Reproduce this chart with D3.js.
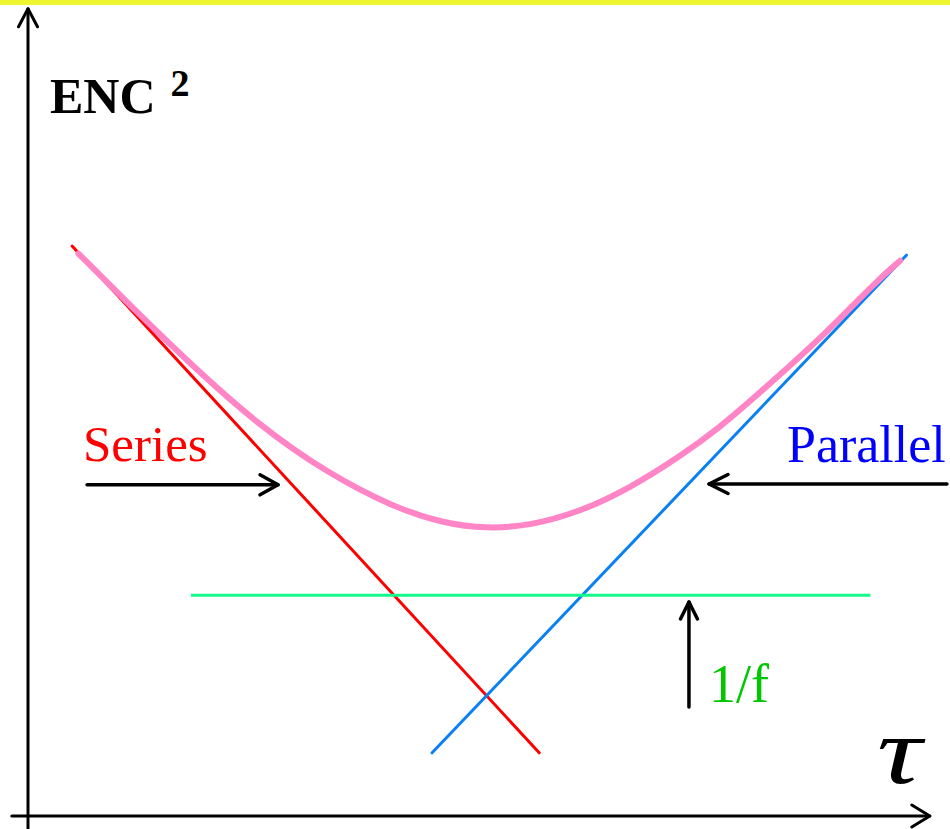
<!DOCTYPE html>
<html>
<head>
<meta charset="utf-8">
<script src="https://cdn.jsdelivr.net/npm/d3@7"></script>
<style>
  html, body { margin: 0; padding: 0; background: #ffffff; }
  svg { display: block; }
</style>
</head>
<body>
<svg id="chart" width="950" height="829"></svg>
<script>
// Noise contributions on log-log axes (arbitrary units: log tau, log ENC^2)
const seriesLine   = [[0.49, 7.125], [5.68, 0.79]];   // series (white) noise, falls with tau
const parallelLine = [[4.49, 0.79], [9.76, 7.01]];    // parallel (shot) noise, rises with tau
const flickerLine  = [[1.81, 2.76], [9.36, 2.76]];    // 1/f noise, flat
// Total ENC^2 curve
const totalX = [0.56, 1.10, 1.83, 2.58, 3.32, 4.06, 4.61, 5.10, 5.58, 6.13, 6.69, 7.24, 7.69, 8.10, 8.83, 9.43, 9.69];
const totalY = [7.03, 6.42, 5.62, 4.87, 4.29, 3.86, 3.66, 3.59, 3.63, 3.80, 4.10, 4.49, 4.86, 5.26, 5.99, 6.69, 6.94];
const labels = ["Series", "Parallel", "1/f"];
const yLabel = "ENC";
const yLabelSup = "2";
const xLabel = "τ";

const svg = d3.select("#chart");
const W = 950;

const x = d3.scaleLinear().domain([0, 10]).range([28, 928]);
const y = d3.scaleLinear().domain([0, 10]).range([816, 16]);

// top band
svg.append("rect").attr("x", 0).attr("y", 0).attr("width", W).attr("height", 5).attr("fill", "#f0f532");

const line = d3.line().x(d => x(d[0])).y(d => y(d[1]));

function arrow(x1, y1, x2, y2, len, hw, width) {
  const a = Math.atan2(y2 - y1, x2 - x1);
  const c = Math.cos(a), s = Math.sin(a);
  const w1 = [x2 - len * c + hw * s, y2 - len * s - hw * c];
  const w2 = [x2 - len * c - hw * s, y2 - len * s + hw * c];
  const g = svg.append("g").attr("stroke", "#000").attr("fill", "none")
    .attr("stroke-width", width).attr("stroke-linecap", "round").attr("stroke-linejoin", "round");
  g.append("line").attr("x1", x1).attr("y1", y1).attr("x2", x2).attr("y2", y2);
  g.append("path").attr("d", `M${w1[0]},${w1[1]}L${x2},${y2}L${w2[0]},${w2[1]}`);
}

// axes
arrow(x(0), y(-0.16), x(0), y(10.09), 18, 9.5, 3);
arrow(x(-0.18), y(0), x(10.02), y(0), 18, 11, 3);

// straight contributions
svg.append("path").datum(seriesLine).attr("d", line)
  .attr("stroke", "#ff0000").attr("stroke-width", 3).attr("fill", "none").attr("stroke-linecap", "round");
svg.append("path").datum(parallelLine).attr("d", line)
  .attr("stroke", "#0a80f5").attr("stroke-width", 3).attr("fill", "none").attr("stroke-linecap", "round");
svg.append("path").datum(flickerLine).attr("d", line)
  .attr("stroke", "#14fa8a").attr("stroke-width", 3).attr("fill", "none");

// total curve
const totalPts = totalX.map((v, i) => [v, totalY[i]]);
svg.append("path").datum(totalPts)
  .attr("d", d3.line().x(d => x(d[0])).y(d => y(d[1])).curve(d3.curveBasis))
  .attr("stroke", "#ff85c6").attr("stroke-width", 6).attr("fill", "none").attr("stroke-linecap", "round");

// annotation arrows
arrow(x(0.656), y(4.14), x(2.778), y(4.14), 18, 10, 3.5);
arrow(x(10.21), y(4.15), x(7.567), y(4.15), 19, 9.5, 3.5);
arrow(x(7.344), y(1.3625), x(7.344), y(2.675), 17, 8.5, 3.5);

const serif = "Liberation Serif, Times New Roman, Times, serif";

// labels
svg.append("text").attr("x", x(0.611)).attr("y", y(4.4375))
  .style("font-family", serif).attr("font-size", 51).attr("fill", "#ff0000").text(labels[0]);
svg.append("text").attr("x", x(8.433)).attr("y", y(4.425))
  .style("font-family", serif).attr("font-size", 52).attr("fill", "#0000ff").text(labels[1]);
svg.append("text").attr("x", x(7.567)).attr("y", y(1.425))
  .style("font-family", serif).attr("font-size", 54).attr("fill", "#00c800").text(labels[2]);

// axis titles
const yt = svg.append("text").attr("x", x(0.244)).attr("y", y(8.7875))
  .style("font-family", serif).attr("font-weight", "bold").attr("font-size", 50).attr("fill", "#000");
yt.append("tspan").text(yLabel);
yt.append("tspan").attr("dx", 15).attr("dy", -17).attr("font-size", 38).text(yLabelSup);

const tx = x(9.433), ty = y(0.4125);
svg.append("text")
  .attr("transform", `translate(${tx},${ty}) scale(1.3,1)`)
  .style("font-family", serif).attr("font-style", "italic").attr("font-size", 96).attr("fill", "#000").text(xLabel);
</script>
</body>
</html>
